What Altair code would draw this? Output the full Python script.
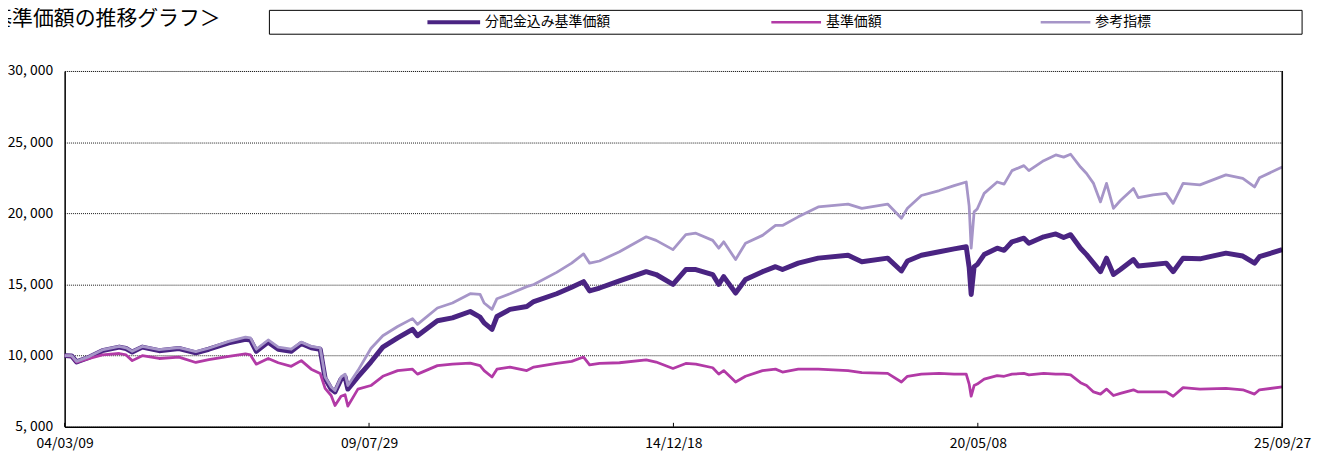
import altair as alt
import pandas as pd

# ---- data ----
dates = [
    "2004-03-09", "2004-04-23", "2004-05-25", "2004-08-17", "2004-11-08",
    "2005-02-25", "2005-04-10", "2005-05-20", "2005-07-24", "2005-11-10",
    "2006-03-18", "2006-07-05", "2006-09-27", "2007-02-03", "2007-05-22",
    "2007-06-23", "2007-07-31", "2007-10-16", "2007-12-20", "2008-03-13",
    "2008-05-17", "2008-07-20", "2008-09-16", "2008-10-18", "2008-11-26",
    "2008-12-21", "2009-01-29", "2009-02-24", "2009-03-14", "2009-05-18",
    "2009-08-10", "2009-10-26", "2010-01-30", "2010-05-06", "2010-06-07",
    "2010-10-14", "2011-01-19", "2011-05-14", "2011-07-17", "2011-08-12",
    "2011-10-02", "2011-11-03", "2012-01-26", "2012-05-14", "2012-06-28",
    "2012-11-23", "2013-02-28", "2013-05-16", "2013-06-24", "2013-08-27",
    "2014-01-03", "2014-06-25", "2014-08-28", "2014-12-15", "2015-03-08",
    "2015-05-12", "2015-08-29", "2015-10-07", "2015-11-08", "2016-01-24",
    "2016-03-28", "2016-07-16", "2016-10-08", "2016-11-22", "2017-03-04",
    "2017-07-11", "2018-01-20", "2018-04-19", "2018-10-03", "2018-12-31",
    "2019-02-08", "2019-05-09", "2019-09-02", "2019-12-07", "2020-02-23",
    "2020-03-13", "2020-03-26", "2020-04-14", "2020-05-04", "2020-06-18",
    "2020-09-10", "2020-10-25", "2020-12-15", "2021-03-02", "2021-04-03",
    "2021-07-08", "2021-09-24", "2021-11-14", "2021-12-29", "2022-03-03",
    "2022-04-11", "2022-05-26", "2022-07-10", "2022-08-18", "2022-10-02",
    "2022-11-16", "2023-02-08", "2023-03-11", "2023-06-16", "2023-09-08",
    "2023-10-23", "2023-12-26", "2024-04-13", "2024-09-28", "2025-01-15",
    "2025-04-01", "2025-05-03", "2025-09-27",
]

nav_with_dividends = [
    10000, 9980, 9560, 9900, 10350, 10600, 10500, 10250, 10600, 10350,
    10500, 10200, 10450, 10900, 11150, 11100, 10300, 10950, 10450, 10300,
    10850, 10550, 10450, 8400, 7650, 7450, 8350, 8500, 7650, 8500,
    9550, 10600, 11250, 11850, 11400, 12450, 12650, 13100, 12700, 12300,
    11850, 12750, 13250, 13450, 13800, 14350, 14800, 15200, 14550, 14750,
    15250, 15900, 15700, 15000, 16050, 16050, 15700, 15000, 15550, 14400,
    15350, 15900, 16250, 16050, 16500, 16850, 17050, 16600, 16850, 15950,
    16650, 17050, 17300, 17500, 17650, 16200, 14300, 16250, 16400, 17100,
    17550, 17400, 18000, 18250, 17900, 18350, 18550, 18300, 18500, 17550,
    17100, 16500, 15900, 16850, 15700, 16050, 16750, 16300, 16400, 16500,
    15900, 16850, 16800, 17200, 17000, 16500, 16950, 17450,
]

nav = [
    10000, 9970, 9550, 9800, 10050, 10150, 10050, 9650, 10000, 9800,
    9900, 9520, 9720, 9950, 10120, 10050, 9400, 9800, 9500, 9250,
    9650, 9050, 8750, 7700, 7200, 6500, 7150, 7250, 6450, 7650,
    7900, 8550, 8950, 9050, 8700, 9300, 9400, 9470, 9300, 8950,
    8500, 9050, 9200, 8950, 9200, 9450, 9600, 9900, 9350, 9450,
    9500, 9700, 9550, 9100, 9450, 9400, 9150, 8700, 8950, 8150,
    8550, 8950, 9050, 8850, 9050, 9050, 8950, 8800, 8750, 8150,
    8550, 8700, 8750, 8700, 8700, 8000, 7150, 7900, 8000, 8350,
    8600, 8550, 8700, 8750, 8650, 8750, 8700, 8700, 8650, 8100,
    7900, 7450, 7300, 7650, 7200, 7350, 7600, 7450, 7450, 7450,
    7150, 7750, 7650, 7700, 7600, 7300, 7600, 7800,
]

benchmark = [
    10000, 10000, 9600, 9950, 10400, 10650, 10550, 10300, 10650, 10420,
    10560, 10280, 10520, 11000, 11300, 11250, 10450, 11100, 10600, 10450,
    10950, 10650, 10550, 8500, 7800, 7550, 8500, 8700, 7900, 8950,
    10500, 11400, 12050, 12600, 12200, 13350, 13700, 14350, 14300, 13700,
    13250, 14000, 14350, 14850, 15000, 15850, 16500, 17150, 16500, 16650,
    17300, 18350, 18100, 17450, 18500, 18600, 18100, 17550, 18000, 16750,
    17900, 18450, 19150, 19150, 19750, 20450, 20650, 20350, 20650, 19650,
    20350, 21250, 21600, 21950, 22200, 20500, 17550, 20100, 20300, 21400,
    22200, 22050, 23000, 23350, 23000, 23700, 24100, 23950, 24150, 23250,
    22800, 22100, 20800, 22100, 20350, 20900, 21750, 21100, 21300, 21400,
    20700, 22100, 22000, 22700, 22450, 21850, 22500, 23250,
]

series_names = ["分配金込み基準価額", "基準価額", "参考指標"]
series_colors = ["#4a2482", "#b23aa6", "#a695c8"]
x_tick_dates = ["2004-03-09", "2009-07-29", "2014-12-18", "2020-05-08", "2025-09-27"]
y_ticks = [5000, 10000, 15000, 20000, 25000, 30000]
title_text = "＜基準価額の推移グラフ＞"

FONT = "Noto Sans CJK JP"
W, H = 1225, 358


def to_dt(s):
    y, m, d = (int(v) for v in s.split("-"))
    return alt.DateTime(year=y, month=m, date=d, utc=True)


df = pd.DataFrame({
    "date": dates * 3,
    "value": nav_with_dividends + nav + benchmark,
    "series": [series_names[0]] * len(dates) + [series_names[1]] * len(dates) + [series_names[2]] * len(dates),
})
ticks_df = pd.DataFrame({"date": x_tick_dates})
one = pd.DataFrame({"k": [0]})

x_enc = alt.X(
    "date:T",
    scale=alt.Scale(type="utc", domain=[to_dt(x_tick_dates[0]), to_dt(x_tick_dates[-1])], nice=False),
    axis=alt.Axis(
        values=[to_dt(s) for s in x_tick_dates],
        labelExpr="utcFormat(datum.value, '%y/%m/%d')",
        ticks=False, grid=False, domainColor="black", domainWidth=1.5,
        labelPadding=10, labelFontSize=14, labelColor="black", labelFont=FONT,
        labelFlush=False, labelOverlap=False, title=None,
    ),
)
y_enc = alt.Y(
    "value:Q",
    scale=alt.Scale(domain=[5000, 30000], nice=False, zero=False),
    axis=alt.Axis(
        values=y_ticks, labelExpr="replace(format(datum.value, ','), ',', ', ')",
        grid=True, gridColor="black", gridDash=[1, 1], gridWidth=1, gridOpacity=0.9,
        ticks=False, domainColor="black", domainWidth=1.5,
        labelPadding=12, labelFontSize=14, labelColor="black", labelFont=FONT, title=None,
    ),
)

widths = [5, 2.8, 2.8]
line_layers = []
for name, color, w in zip(series_names, series_colors, widths):
    line_layers.append(
        alt.Chart(df).transform_filter(alt.datum.series == name)
        .mark_line(color=color, strokeWidth=w, strokeJoin="round")
        .encode(x=x_enc, y=y_enc)
    )

inner_ticks = alt.Chart(ticks_df).mark_rule(color="black", strokeWidth=1).encode(
    x=x_enc, y=alt.value(H), y2=alt.value(H - 4)
)
right_border = alt.Chart(one).mark_rule(color="black", strokeWidth=1.5).encode(
    x=alt.value(W), y=alt.value(0), y2=alt.value(H)
)

# legend box and entries
LEG_Y = -49
legend_box = alt.Chart(one).mark_rect(filled=False, stroke="black", strokeWidth=1).encode(
    x=alt.value(206), x2=alt.value(1245), y=alt.value(-61), y2=alt.value(-37)
)
legend_layers = [legend_box]
entry_x = [(365, 418), (711, 761), (982, 1032)]
for (x0, x1), name, color, w in zip(entry_x, series_names, series_colors, [4, 2.5, 2.5]):
    legend_layers.append(
        alt.Chart(one).mark_rule(color=color, strokeWidth=w).encode(
            x=alt.value(x0), x2=alt.value(x1), y=alt.value(LEG_Y)
        )
    )
    legend_layers.append(
        alt.Chart(one).mark_text(align="left", baseline="middle", fontSize=14, font=FONT, color="black").encode(
            x=alt.value(x1 + 5), y=alt.value(LEG_Y), text=alt.value(name)
        )
    )

title_layer = alt.Chart(one).mark_text(align="right", baseline="middle", fontSize=21, font=FONT, color="black").encode(
    x=alt.value(157), y=alt.value(-52), text=alt.value(title_text)
)

chart = alt.layer(
    *line_layers, inner_ticks, right_border, *legend_layers, title_layer
).properties(
    width=W, height=H,
    padding={"left": 57, "top": 62, "right": 35, "bottom": 27},
    autosize=alt.AutoSizeParams(type="none"),
).configure_view(stroke=None).configure(background="white")

chart.save("out.html", embed_options={"renderer": "svg", "actions": False})
